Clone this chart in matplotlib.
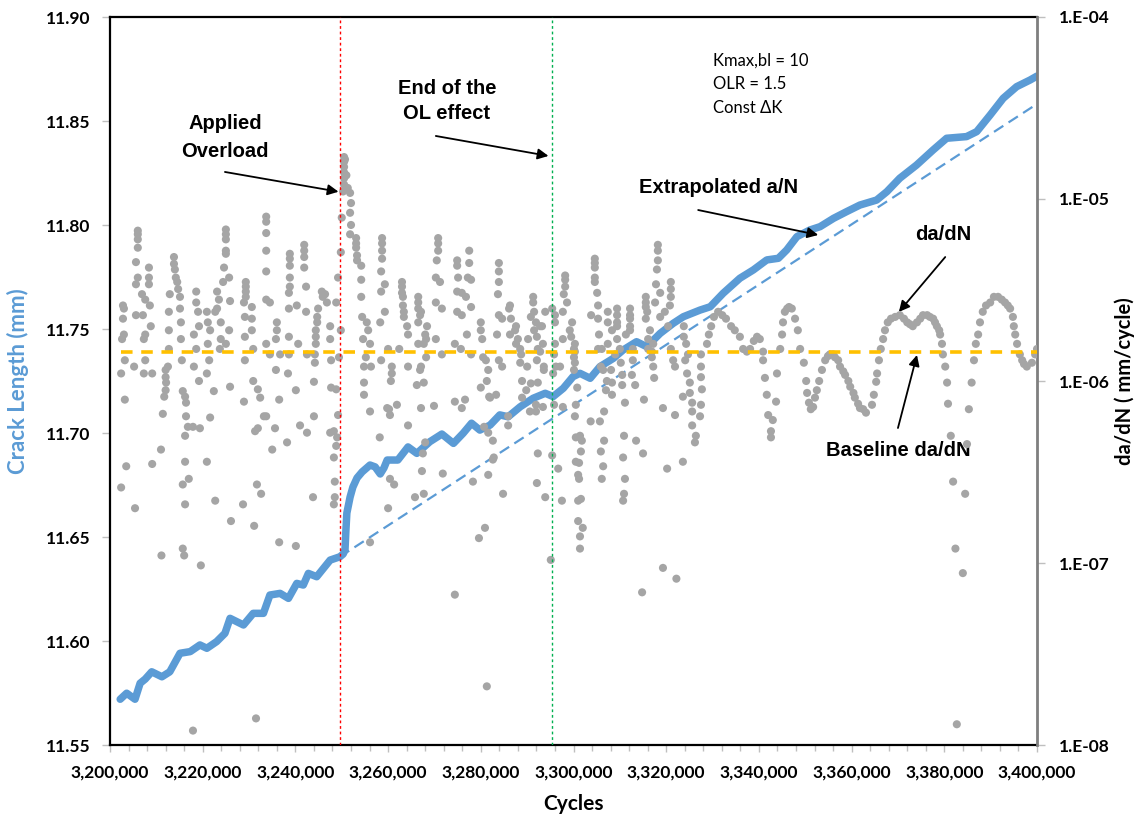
import matplotlib
matplotlib.use('Agg')

import numpy as np
import matplotlib.pyplot as plt
from matplotlib.ticker import FuncFormatter, MultipleLocator, FixedLocator, NullLocator

# ---------- crack length (left axis) ----------
crack_cycles = [
    3202200, 3203600, 3205400, 3206500, 3207600, 3209000, 3211200, 3212900, 3215100, 3217300,
    3219400, 3220900, 3223000, 3224800, 3225900, 3228800, 3230900, 3233100, 3234500, 3236700,
    3238500, 3240300, 3241700, 3242800, 3244600, 3247500, 3249600, 3250300, 3250700, 3250900,
    3251100, 3251800, 3252400, 3253300, 3254400, 3256100, 3257200, 3258300, 3259100, 3259800,
    3262100, 3264300, 3266200, 3269000, 3271600, 3274100, 3276200, 3278000, 3279800, 3282000,
    3284100, 3285900, 3288500, 3291300, 3293900, 3295600, 3297800, 3299900, 3301400, 3303600,
    3305700, 3308600, 3310700, 3313600, 3315800, 3318700, 3321500, 3323700, 3327300, 3329500,
    3332300, 3335900, 3338800, 3341700, 3344200, 3346000, 3348200, 3351000, 3353200, 3356100,
    3358900, 3361800, 3365400, 3367600, 3370400, 3374000, 3377600, 3380500, 3384800, 3387000,
    3389900, 3392700, 3395600, 3398500, 3400000,
]
crack_len = [
    11.5720, 11.5749, 11.5720, 11.5797, 11.5817, 11.5852, 11.5828, 11.5852, 11.5941, 11.5949,
    11.5981, 11.5965, 11.5997, 11.6037, 11.6109, 11.6077, 11.6133, 11.6133, 11.6221, 11.6229,
    11.6205, 11.6277, 11.6269, 11.6325, 11.6309, 11.6389, 11.6405, 11.6418, 11.6438, 11.6534,
    11.6615, 11.6692, 11.6740, 11.6784, 11.6813, 11.6846, 11.6837, 11.6803, 11.6832, 11.6870,
    11.6870, 11.6933, 11.6902, 11.6958, 11.6995, 11.6950, 11.6999, 11.7047, 11.7014, 11.7038,
    11.7087, 11.7078, 11.7126, 11.7167, 11.7191, 11.7175, 11.7215, 11.7271, 11.7287, 11.7263,
    11.7319, 11.7359, 11.7399, 11.7439, 11.7415, 11.7479, 11.7527, 11.7559, 11.7591, 11.7607,
    11.7672, 11.7744, 11.7784, 11.7832, 11.7840, 11.7880, 11.7944, 11.7976, 11.7992, 11.8032,
    11.8064, 11.8096, 11.8120, 11.8160, 11.8225, 11.8288, 11.8361, 11.8417, 11.8425, 11.8449,
    11.8529, 11.8609, 11.8665, 11.8697, 11.8716,
]

# extrapolated a/N from the overload point at the baseline rate
extrap_cycles = [3249600, 3400000]
extrap_len = [11.6405, 11.8582]

overload_cycle = 3249600
ol_end_cycle = 3295400
baseline_dadn = 1.45e-6

# ---------- da/dN (right axis) ----------
dadn_cycles = [
    3202800, 3203000, 3202800, 3203000, 3202600, 3203200, 3202400, 3203200, 3203500, 3202400, 3205400,
    3206000, 3206000, 3206000, 3206000, 3205600, 3206000, 3205600, 3206900, 3207600, 3208600, 3205600, 3207100, 3208800,
    3207600, 3207300, 3207600, 3205200, 3207300, 3209100, 3208400, 3208400, 3208400, 3209100, 3211000, 3211100,
    3213800, 3213800, 3214000, 3214200, 3214500, 3214700, 3215100, 3212900, 3212700, 3215100, 3215300, 3212700,
    3215300, 3212700, 3215500, 3212500, 3212000, 3212000, 3212100, 3212000, 3211700, 3211400, 3215700, 3216200,
    3216400, 3216400, 3216800, 3216200, 3216200, 3217000, 3215700, 3216200, 3215700, 3216000, 3217900,
    3218600, 3218600, 3219000, 3219200, 3218100, 3218600, 3218100, 3219200, 3220900, 3219400, 3217900,
    3220900, 3220900, 3221100, 3221600, 3221100, 3221400, 3222400, 3221600, 3222700, 3219600,
    3225000, 3225000, 3225000, 3225000, 3225000, 3224600, 3225700, 3224400, 3223100, 3223500,
    3225900, 3223100, 3222700, 3223900, 3225700, 3223900, 3225000, 3223700, 3225900, 3226100,
    3229300, 3229300, 3229300, 3229300, 3228900, 3230600, 3229100, 3230600, 3230600, 3229100, 3230900, 3229100,
    3230900, 3231900, 3232400, 3228900, 3233200, 3231900, 3231300, 3231700, 3232600, 3228700, 3231100, 3231500,
    3233700, 3233700, 3233700, 3233700, 3233700, 3233700, 3234500, 3233700, 3236000, 3236000, 3235800, 3236700,
    3234500, 3235800, 3233700, 3235600, 3235000, 3236500, 3238200, 3236500, 3240100, 3241000, 3242500, 3243800,
    3238800, 3238800, 3238800, 3238800, 3238800, 3238600, 3238600, 3238600, 3238600, 3238400,
    3241900, 3241900, 3241900, 3241900, 3242300, 3240300, 3242300, 3240600, 3242500, 3240100,
    3245700, 3246400, 3245900, 3246800, 3244900, 3244700, 3244700, 3244400, 3244400,
    3244400, 3244200, 3244200, 3244000, 3244000, 3247500, 3247500, 3247700, 3247700,
    3248800, 3248800, 3249200, 3248300, 3249000, 3248800, 3248300, 3248500, 3248500, 3248300,
    3249200, 3249800, 3249400, 3247500,
    3250500, 3250500, 3250500, 3250500, 3250500, 3250500, 3251300, 3251800, 3252000, 3251800,
    3250000, 3252000, 3251800, 3253100, 3253100, 3253100, 3253300, 3253300, 3254200, 3254200,
    3254200, 3254400, 3255400, 3255700, 3254600, 3256100, 3255200, 3254800, 3256300, 3254800,
    3254800, 3256100, 3250300, 3249800, 3256100, 3258200, 3250700, 3251000,
    3258700, 3258700, 3258700, 3258700, 3258500, 3259300, 3258500, 3259300, 3258300, 3260000, 3258500,
    3260800, 3260800, 3260600, 3259800, 3260400, 3260400, 3260000, 3261300, 3260200, 3261900, 3264300,
    3263000, 3263000, 3263000, 3263200, 3263200, 3263400, 3263400, 3264100, 3264300, 3262400, 3264300,
    3266500, 3266500, 3266500, 3266900, 3266500, 3268400, 3266500, 3267700, 3266900, 3266200, 3267100, 3267300,
    3267100, 3268000, 3268200, 3268200, 3267100, 3267700, 3268000, 3267700, 3265800, 3267500, 3269900, 3271800,
    3270800, 3270800, 3270800, 3270500, 3270300, 3271200, 3270300, 3271600, 3270300, 3271600,
    3274900, 3274900, 3275100, 3274900, 3275900, 3274900, 3275900, 3277500, 3277500, 3277200, 3277900,
    3276800, 3277900, 3277000, 3274400, 3275700, 3277900, 3274400, 3276600, 3275900, 3274400, 3278300,
    3280000, 3280000, 3280300, 3280500, 3281100, 3281600, 3281300, 3280000, 3281800,
    3280700, 3281600, 3282600, 3282600, 3281600, 3280900, 3279600, 3281300, 3282800,
    3283900, 3283900, 3283900, 3283700, 3283900, 3284600, 3283500, 3283900, 3284600, 3283300, 3282000,
    3285900, 3284800, 3285900,
    3286300, 3286100, 3286500, 3287600, 3287400, 3286300, 3288000, 3287600, 3288500, 3288700, 3288500,
    3290000, 3288900, 3289800, 3288900, 3290600, 3290800,
    3291300, 3291300, 3291500, 3290800, 3291900, 3292800, 3291500, 3292100, 3290200, 3292300, 3292800, 3292100,
    3293600, 3292300, 3291900, 3291900, 3293900, 3293200, 3293400, 3293600, 3293400, 3292300, 3292100, 3293900,
    3295400, 3296000, 3296000, 3296000, 3295800, 3296200, 3295600, 3295800, 3297700, 3295400, 3297500, 3298200,
    3298200, 3298200, 3297900, 3298600, 3297700, 3299700, 3299200, 3299500, 3300300, 3300100, 3300100, 3300100,
    3297700, 3297100, 3300500, 3300300, 3300500, 3300500, 3301000, 3301000, 3301000, 3295100, 3296700,
    3300300, 3300300, 3300800, 3301400, 3301600, 3301200, 3301200, 3301600, 3301400, 3301400, 3302000, 3301800, 3303700,
    3304600, 3304600, 3304600, 3304600, 3304600, 3305100, 3305300, 3305300, 3305500, 3305300, 3305900, 3303800,
    3306100, 3306400, 3307200, 3307000, 3306600, 3305700, 3306600, 3305900, 3306400,
    3306100, 3307400, 3307400, 3308300, 3307400, 3309000, 3308100, 3308300, 3308300,
    3309400, 3309400, 3309400, 3309400, 3309400, 3310000, 3310200, 3310500, 3310500, 3311100, 3310900, 3310700,
    3311100, 3310900, 3310700,
    3312200, 3312200, 3312200, 3312200, 3312200, 3311300, 3312800, 3312800, 3312600, 3313300, 3313500, 3315000,
    3315200, 3314800,
    3315600, 3315600, 3315600, 3315900, 3315600, 3316500, 3316100, 3316100, 3316900, 3317200, 3317400, 3318200,
    3318200, 3318200, 3318000, 3317800, 3318700, 3317600, 3318700, 3317200, 3316900, 3319300, 3319300, 3320200,
    3321000, 3321000, 3321000, 3320800, 3319700, 3320400, 3321000, 3321500, 3321900, 3321900, 3323600, 3322200,
    3323800, 3323800, 3324300, 3324700, 3324100, 3324500, 3325100, 3323600, 3325600, 3325600, 3325600, 3326400,
    3326200, 3325100, 3327700, 3327300,
    3327500, 3327500, 3327500, 3327500, 3328800, 3329200, 3329700, 3330300, 3331200, 3332100, 3332900, 3334000,
    3334800, 3335900, 3336600, 3337400, 3338100, 3338900, 3339600, 3340200, 3340900, 3340900, 3341300, 3341700,
    3342000, 3343000, 3342600, 3342600, 3343700, 3343900, 3344600, 3345000, 3345200, 3345600, 3346100, 3346500,
    3347100, 3347800, 3348400, 3348900, 3349700, 3350200, 3350400, 3350800, 3351200, 3351700, 3352100, 3352500,
    3353000, 3353600, 3354300, 3354900, 3355300, 3356000, 3356400, 3357100, 3357500, 3358200, 3358600, 3359300,
    3359700, 3360400, 3360700, 3361400, 3361800, 3362500, 3363100, 3364400, 3364800, 3365300, 3365500, 3365900,
    3366300, 3366800, 3367200, 3367800, 3368500, 3369400, 3370400, 3371300, 3372000, 3372600, 3373200, 3374100,
    3374800, 3375400, 3376300, 3376900, 3377600, 3378000, 3378400, 3378900, 3379100, 3379500, 3379700, 3380200,
    3380600, 3380800, 3381400, 3381900, 3382400, 3382700, 3384000, 3384500, 3384900, 3385300, 3385900, 3386400,
    3386800, 3387300, 3387700, 3388300, 3389000, 3389900, 3390700, 3391600, 3392400, 3393100, 3393700, 3394200,
    3394800, 3395000, 3395300, 3395700, 3396300, 3396800, 3397200, 3397800, 3398900, 3399600, 3400000,
]
dadn_rate = [
    2.6e-6, 2.5e-6, 2.2e-6, 1.8e-6, 1.7e-6, 1.3e-6, 1.1e-6, 7.9e-7, 3.4e-7, 2.6e-7, 2.0e-7,
    6.7e-6, 6.4e-6, 6.0e-6, 5.4e-6, 4.5e-6, 3.7e-6, 3.4e-6, 3.0e-6, 2.8e-6, 2.6e-6, 2.3e-6, 2.3e-6, 2.0e-6,
    1.8e-6, 1.7e-6, 1.3e-6, 1.2e-6, 1.1e-6, 1.1e-6, 4.2e-6, 3.7e-6, 3.4e-6, 3.5e-7, 4.2e-7, 1.1e-7,
    4.8e-6, 4.4e-6, 4.1e-6, 3.7e-6, 3.5e-6, 3.2e-6, 2.9e-6, 3.0e-6, 2.4e-6, 2.5e-6, 2.1e-6, 1.9e-6,
    1.7e-6, 1.5e-6, 1.3e-6, 1.2e-6, 1.15e-6, 1.05e-6, 9.8e-7, 8.9e-7, 8.2e-7, 6.6e-7, 8.8e-7, 8.2e-7,
    7.6e-7, 6.4e-7, 5.6e-7, 5.0e-7, 3.6e-7, 2.9e-7, 2.7e-7, 2.1e-7, 1.2e-7, 1.1e-7, 1.2e-8,
    3.1e-6, 2.7e-6, 2.4e-6, 2.0e-6, 1.8e-6, 1.5e-6, 1.2e-6, 1.0e-6, 1.1e-6, 5.5e-7, 5.6e-7,
    3.6e-7, 2.4e-6, 2.1e-6, 1.9e-6, 1.6e-6, 1.3e-6, 8.8e-7, 6.3e-7, 2.2e-7, 9.7e-8,
    6.8e-6, 6.4e-6, 6.0e-6, 5.2e-6, 5.0e-6, 4.2e-6, 3.7e-6, 3.5e-6, 3.1e-6, 2.8e-6,
    2.75e-6, 2.5e-6, 2.4e-6, 2.1e-6, 1.9e-6, 1.7e-6, 1.6e-6, 1.5e-6, 9.3e-7, 1.7e-7,
    3.5e-6, 3.3e-6, 3.1e-6, 2.9e-6, 2.7e-6, 2.55e-6, 2.25e-6, 2.2e-6, 1.9e-6, 1.75e-6, 1.5e-6, 1.3e-6,
    1.0e-6, 9.0e-7, 8.1e-7, 7.7e-7, 6.4e-7, 5.5e-7, 5.3e-7, 2.7e-7, 2.4e-7, 2.1e-7, 1.6e-7, 1.4e-8,
    8.0e-6, 7.5e-6, 6.5e-6, 5.2e-6, 4.0e-6, 2.8e-6, 2.7e-6, 1.6e-6, 2.1e-6, 1.9e-6, 1.7e-6, 1.4e-6,
    1.4e-6, 1.15e-6, 6.4e-7, 5.5e-7, 4.2e-7, 7.9e-7, 4.6e-7, 1.3e-7, 1.24e-7, 5.7e-7, 5.2e-7, 2.3e-7,
    5.0e-6, 4.7e-6, 4.3e-6, 3.7e-6, 3.3e-6, 3.05e-6, 2.5e-6, 1.75e-6, 1.4e-6, 1.1e-6,
    5.6e-6, 5.2e-6, 4.8e-6, 4.2e-6, 3.3e-6, 2.6e-6, 2.4e-6, 1.6e-6, 1.4e-6, 8.9e-7,
    3.1e-6, 3.0e-6, 2.9e-6, 2.7e-6, 2.5e-6, 2.25e-6, 2.1e-6, 1.9e-6, 1.75e-6,
    1.6e-6, 1.4e-6, 1.26e-6, 9.9e-7, 6.4e-7, 2.0e-6, 1.7e-6, 1.3e-6, 9.2e-7,
    2.7e-6, 9.0e-7, 6.5e-7, 5.3e-7, 4.9e-7, 4.4e-7, 3.8e-7, 2.8e-7, 2.3e-7, 2.1e-7,
    3.7e-6, 1.9e-6, 1.35e-6, 5.2e-7,
    1.7e-5, 1.6e-5, 1.5e-5, 1.4e-5, 1.3e-5, 1.2e-5, 1.15e-5, 1.08e-5, 9.5e-6, 8.4e-6,
    7.9e-6, 7.2e-6, 6.4e-6, 6.1e-6, 5.7e-6, 5.4e-6, 4.9e-6, 4.6e-6, 4.3e-6, 3.6e-6,
    2.9e-6, 2.25e-6, 2.1e-6, 1.9e-6, 1.7e-6, 1.6e-6, 1.35e-6, 1.2e-6, 1.2e-6, 9.8e-7,
    8.4e-7, 6.8e-7, 1.1e-5, 5.1e-6, 1.3e-7, 4.9e-7, 1.65e-5, 1.35e-5,
    6.1e-6, 5.7e-6, 5.2e-6, 4.7e-6, 4.0e-6, 3.4e-6, 3.1e-6, 2.4e-6, 2.1e-6, 1.5e-6, 1.3e-6,
    1.2e-6, 1.1e-6, 1.0e-6, 7.1e-7, 6.5e-7, 2.9e-7, 2.0e-7, 2.7e-7, 7.0e-7, 7.4e-7, 5.7e-7,
    3.5e-6, 3.3e-6, 3.05e-6, 2.9e-6, 2.6e-6, 2.4e-6, 2.25e-6, 2.0e-6, 1.8e-6, 1.5e-6, 1.2e-6,
    2.9e-6, 2.7e-6, 2.5e-6, 2.3e-6, 2.1e-6, 2.0e-6, 1.6e-6, 1.6e-6, 1.15e-6, 9.5e-7, 7.1e-7, 3.2e-7,
    2.4e-6, 1.8e-6, 1.7e-6, 1.35e-6, 1.2e-6, 9.8e-7, 4.6e-7, 2.4e-7, 2.3e-7, 4.0e-7, 7.3e-7, 3.1e-7,
    6.1e-6, 5.7e-6, 5.2e-6, 4.6e-6, 3.7e-6, 3.5e-6, 2.7e-6, 2.5e-6, 1.7e-6, 1.4e-6,
    4.6e-6, 4.3e-6, 3.7e-6, 3.1e-6, 3.05e-6, 2.4e-6, 2.3e-6, 5.2e-6, 4.45e-6, 3.7e-6, 3.6e-6,
    2.9e-6, 2.55e-6, 1.8e-6, 1.6e-6, 1.5e-6, 1.4e-6, 7.7e-7, 7.9e-7, 7.1e-7, 6.7e-8, 2.8e-7,
    2.1e-6, 1.9e-6, 1.7e-6, 1.35e-6, 1.3e-6, 1.15e-6, 1.0e-6, 9.2e-7, 8.2e-7,
    5.6e-7, 5.2e-7, 4.7e-7, 3.7e-7, 3.05e-7, 1.56e-7, 1.37e-7, 2.1e-8, 3.8e-7,
    4.45e-6, 4.0e-6, 3.5e-6, 3.0e-6, 2.3e-6, 2.2e-6, 1.8e-6, 1.3e-6, 1.2e-6, 8.4e-7, 8.1e-7,
    5.7e-7, 2.4e-7, 6.4e-7,
    2.6e-6, 2.5e-6, 2.2e-6, 2.0e-6, 1.9e-6, 1.8e-6, 1.7e-6, 1.6e-6, 1.5e-6, 1.4e-6, 1.26e-6,
    1.2e-6, 1.0e-6, 8.9e-7, 8.1e-7, 6.8e-7, 9.7e-7,
    2.9e-6, 2.7e-6, 2.4e-6, 2.25e-6, 2.1e-6, 2.0e-6, 1.9e-6, 1.75e-6, 1.7e-6, 1.5e-6, 1.45e-6, 1.3e-6,
    1.2e-6, 9.8e-7, 7.4e-7, 6.8e-7, 2.4e-6, 2.0e-6, 1.6e-6, 1.15e-6, 7.2e-7, 4.0e-7, 2.75e-7, 2.3e-7,
    2.5e-6, 2.3e-6, 2.1e-6, 1.6e-6, 1.4e-6, 1.2e-6, 1.1e-6, 7.4e-7, 7.2e-7, 3.9e-7, 2.2e-7, 3.8e-6,
    3.6e-6, 3.3e-6, 3.0e-6, 2.7e-6, 2.4e-6, 2.1e-6, 1.9e-6, 1.75e-6, 1.6e-6, 1.5e-6, 1.35e-6, 1.15e-6,
    1.7e-6, 1.2e-6, 7.4e-7, 6.4e-7, 4.9e-7, 3.6e-7, 3.05e-7, 2.2e-7, 1.7e-7, 1.04e-7, 3.3e-7,
    1.45e-6, 1.26e-6, 9.2e-7, 5.0e-7, 4.1e-7, 3.55e-7, 2.9e-7, 2.25e-7, 1.2e-7, 1.4e-7, 1.56e-7, 4.7e-7, 6.0e-7,
    4.7e-6, 4.45e-6, 4.2e-6, 3.7e-6, 3.5e-6, 3.05e-6, 2.6e-6, 2.2e-6, 1.8e-6, 1.5e-6, 1.2e-6, 2.3e-6,
    1.5e-6, 1.15e-6, 1.0e-6, 8.9e-7, 6.8e-7, 6.0e-7, 4.7e-7, 4.1e-7, 3.4e-7,
    2.9e-7, 2.4e-6, 2.1e-6, 1.9e-6, 1.6e-6, 1.4e-6, 1.15e-6, 9.8e-7, 8.4e-7,
    2.5e-6, 2.3e-6, 2.1e-6, 2.0e-6, 1.7e-6, 1.5e-6, 1.26e-6, 1.08e-6, 9.5e-7, 7.6e-7, 5.0e-7, 3.8e-7,
    2.9e-7, 2.4e-7, 2.2e-7,
    2.5e-6, 2.3e-6, 2.2e-6, 2.0e-6, 1.9e-6, 1.8e-6, 1.5e-6, 1.3e-6, 1.08e-6, 9.5e-7, 4.7e-7, 4.0e-7,
    7.9e-7, 6.9e-8,
    2.9e-6, 2.7e-6, 2.55e-6, 2.4e-6, 2.2e-6, 1.9e-6, 1.7e-6, 1.5e-6, 1.35e-6, 1.2e-6, 1.04e-6, 5.6e-6,
    5.2e-6, 4.6e-6, 4.1e-6, 3.4e-6, 3.05e-6, 2.7e-6, 2.25e-6, 1.6e-6, 1.45e-6, 7.1e-7, 9.4e-8, 3.3e-7,
    3.5e-6, 3.2e-6, 2.9e-6, 2.6e-6, 2.4e-6, 2.0e-6, 1.5e-6, 1.3e-6, 1.2e-6, 6.5e-7, 3.6e-7, 8.2e-8,
    2.0e-6, 1.75e-6, 1.6e-6, 1.4e-6, 1.3e-6, 1.1e-6, 9.8e-7, 8.2e-7, 7.6e-7, 6.8e-7, 5.7e-7, 5.0e-7,
    4.6e-7, 8.6e-7, 9.0e-7, 6.4e-7,
    1.4e-6, 1.2e-6, 1.05e-6, 7.4e-7, 1.6e-6, 1.8e-6, 2.0e-6, 2.25e-6, 2.4e-6, 2.3e-6, 2.2e-6, 2.0e-6,
    1.9e-6, 1.75e-6, 1.5e-6, 1.45e-6, 1.5e-6, 1.66e-6, 1.75e-6, 1.7e-6, 1.45e-6, 1.3e-6, 1.04e-6, 8.4e-7,
    6.5e-7, 6.1e-7, 5.3e-7, 4.9e-7, 7.7e-7, 1.1e-6, 1.5e-6, 1.8e-6, 2.1e-6, 2.4e-6, 2.5e-6, 2.55e-6,
    2.5e-6, 2.2e-6, 1.9e-6, 1.5e-6, 1.26e-6, 1.0e-6, 8.6e-7, 7.6e-7, 7.0e-7, 7.2e-7, 8.1e-7, 8.9e-7,
    1.0e-6, 1.15e-6, 1.3e-6, 1.37e-6, 1.4e-6, 1.4e-6, 1.35e-6, 1.3e-6, 1.2e-6, 1.13e-6, 1.08e-6, 1.0e-6,
    9.3e-7, 8.6e-7, 8.1e-7, 7.5e-7, 7.1e-7, 7.0e-7, 6.7e-7, 7.4e-7, 8.4e-7, 9.9e-7, 1.1e-6, 1.3e-6,
    1.5e-6, 1.7e-6, 1.9e-6, 2.1e-6, 2.2e-6, 2.25e-6, 2.3e-6, 2.2e-6, 2.1e-6, 2.05e-6, 2.0e-6, 2.1e-6,
    2.2e-6, 2.3e-6, 2.3e-6, 2.25e-6, 2.2e-6, 2.1e-6, 2.0e-6, 1.9e-6, 1.8e-6, 1.6e-6, 1.4e-6, 1.2e-6,
    9.8e-7, 7.5e-7, 5.0e-7, 2.8e-7, 1.2e-7, 1.3e-8, 8.8e-8, 2.4e-7, 4.5e-7, 7.0e-7, 9.8e-7, 1.3e-6,
    1.6e-6, 1.8e-6, 2.1e-6, 2.4e-6, 2.6e-6, 2.7e-6, 2.9e-6, 2.9e-6, 2.8e-6, 2.7e-6, 2.6e-6, 2.5e-6,
    2.25e-6, 2.0e-6, 1.8e-6, 1.6e-6, 1.4e-6, 1.3e-6, 1.24e-6, 1.2e-6, 1.26e-6, 1.4e-6, 1.5e-6,
]

x_ticks = np.arange(3200000, 3400001, 20000)
left_ticks = [11.55, 11.60, 11.65, 11.70, 11.75, 11.80, 11.85, 11.90]
right_ticks = [1e-8, 1e-7, 1e-6, 1e-5, 1e-4]

plt.rcParams['font.family'] = ['Lato', 'DejaVu Sans']
BLUE = '#5B9BD5'
GREY = '#A5A5A5'
TICK = '#BFBFBF'
note_font = 'Liberation Sans'

fig = plt.figure(figsize=(11.37, 8.16), dpi=100)
ax = fig.add_axes([110 / 1137, 1 - 745 / 816, 927 / 1137, 728 / 816])
ax2 = ax.twinx()

# --- crack length ---
ax.plot(extrap_cycles, extrap_len, color=BLUE, lw=1.6, dashes=(5, 2.8), zorder=2)
ax.plot(crack_cycles, crack_len, color=BLUE, lw=5.4, solid_joinstyle='round',
        solid_capstyle='round', zorder=3)

ax.set_xlim(3200000, 3400000)
ax.set_ylim(11.55, 11.90)
ax.xaxis.set_major_locator(FixedLocator(x_ticks))
ax.xaxis.set_minor_locator(MultipleLocator(4000))
ax.xaxis.set_major_formatter(FuncFormatter(lambda v, p: f"{v:,.0f}"))
ax.yaxis.set_major_locator(FixedLocator(left_ticks))
ax.yaxis.set_major_formatter(FuncFormatter(lambda v, p: f"{v:.2f}"))

# --- da/dN ---
ax2.set_yscale('log')
ax2.set_ylim(1e-8, 1e-4)
ax2.scatter(dadn_cycles, dadn_rate, s=34, color=GREY, edgecolors='none', zorder=3)
ax2.plot([min(dadn_cycles), max(dadn_cycles)], [baseline_dadn, baseline_dadn],
         color='#FFC000', lw=2.6, dashes=(3.2, 2.4), zorder=4)
ax2.axvline(overload_cycle, color='#FF0000', lw=1.0, ls=(0, (2, 2)), zorder=5)
ax2.axvline(ol_end_cycle, color='#00B050', lw=1.0, ls=(0, (2, 2)), zorder=5)
ax2.yaxis.set_major_locator(FixedLocator(right_ticks))
ax2.yaxis.set_minor_locator(NullLocator())
ax2.yaxis.set_major_formatter(FuncFormatter(lambda v, p: f"1.E{int(round(np.log10(v))):03d}"))

# spines / ticks
for side in ['left', 'top', 'bottom']:
    ax.spines[side].set_color('black')
    ax.spines[side].set_linewidth(1.6)
ax.spines['right'].set_visible(False)
for side in ['left', 'top', 'bottom']:
    ax2.spines[side].set_visible(False)
ax2.spines['right'].set_color('#7F7F7F')
ax2.spines['right'].set_linewidth(2.0)

ax.tick_params(axis='x', which='major', direction='out', color=TICK, length=5, width=1,
               pad=9, labelsize=12.5)
ax.tick_params(axis='x', which='minor', direction='out', color=TICK, length=4, width=1)
ax.tick_params(axis='y', direction='out', color=TICK, length=6, width=1, pad=8, labelsize=12.5)
ax2.tick_params(axis='y', which='major', direction='out', color=TICK, length=6, width=1,
                pad=10, labelsize=12.5)
for lab in ax.get_xticklabels() + ax.get_yticklabels() + ax2.get_yticklabels():
    lab.set_fontweight('bold')

ax.set_xlabel('Cycles', fontsize=15, fontweight='bold', labelpad=10)
ax.set_ylabel('Crack Length (mm)', fontsize=16, fontweight='bold', color=BLUE, labelpad=12)
ax2.set_ylabel('da/dN ( mm/cycle)', fontsize=14.5, fontweight='bold', rotation=90, labelpad=3)

# --- annotations ---
arrow = dict(arrowstyle='-|>', color='black', lw=1.3, mutation_scale=16, shrinkA=0, shrinkB=0)

ax.text(3224800, 11.8423, 'Applied\nOverload', ha='center', va='center', fontsize=14.5,
        fontweight='bold', family=note_font, linespacing=1.6)
ax.annotate('', xy=(3249300, 11.8160), xytext=(3224800, 11.8255), arrowprops=arrow)

ax.text(3272700, 11.8596, 'End of the\nOL effect', ha='center', va='center', fontsize=14.5,
        fontweight='bold', family=note_font, linespacing=1.35)
ax.annotate('', xy=(3294600, 11.8332), xytext=(3270300, 11.8428), arrowprops=arrow)

ax.text(3331200, 11.8178, 'Extrapolated a/N', ha='center', va='center', fontsize=14.5,
        fontweight='bold', family=note_font)
ax.annotate('', xy=(3352800, 11.7952), xytext=(3326900, 11.8072), arrowprops=arrow)

ax.text(3379700, 11.7952, 'da/dN', ha='center', va='center', fontsize=14.5,
        fontweight='bold', family=note_font)
ax.annotate('', xy=(3370200, 11.7582), xytext=(3380200, 11.7846), arrowprops=arrow)

ax.text(3370000, 11.6918, 'Baseline da/dN', ha='center', va='center', fontsize=14.5,
        fontweight='bold', family=note_font)
ax.annotate('', xy=(3374100, 11.7375), xytext=(3370000, 11.7024), arrowprops=arrow)

ax.text(3330100, 11.8678, 'Kmax,bl = 10\nOLR = 1.5\nConst \u0394K', ha='left', va='center',
        fontsize=12, family=['Lato', 'DejaVu Sans'], linespacing=1.6)

fig.savefig('out.png', dpi=100)
